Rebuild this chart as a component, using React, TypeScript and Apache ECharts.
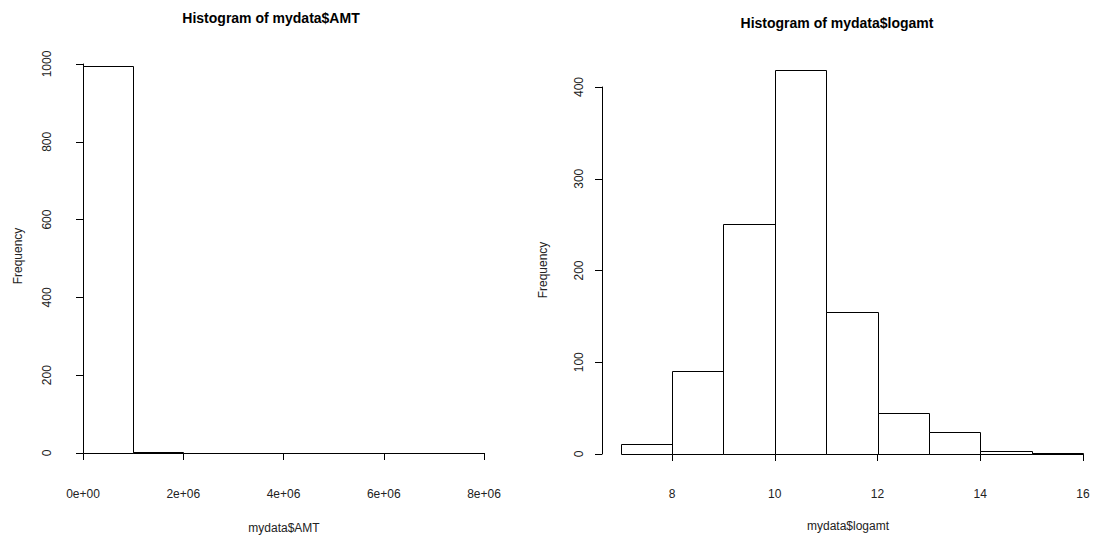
import React, { useEffect, useRef } from "react";
import * as echarts from "echarts";

// Left histogram: bins of mydata$AMT (width 1e6)
const amtBinStarts = [0, 1e6, 2e6, 3e6, 4e6, 5e6, 6e6, 7e6];
const amtBinWidth = 1e6;
const amtCounts = [995, 2, 0, 0, 0, 0, 0, 1];
const amtTickLabels = ["0e+00", "2e+06", "4e+06", "6e+06", "8e+06"];

// Right histogram: bins of mydata$logamt (width 1)
const logBinStarts = [7, 8, 9, 10, 11, 12, 13, 14, 15];
const logBinWidth = 1;
const logCounts = [11, 91, 251, 419, 155, 45, 24, 3, 1];
const logTickLabels = ["8", "10", "12", "14", "16"];

const leftTitle = "Histogram of mydata$AMT";
const rightTitle = "Histogram of mydata$logamt";
const leftXName = "mydata$AMT";
const rightXName = "mydata$logamt";
const yName = "Frequency";

const FONT = '"Liberation Sans", Arial, sans-serif';
const TXT = "#222";

function renderBar(params: any, api: any) {
  const x0 = api.value(0);
  const x1 = api.value(1);
  const h = api.value(2);
  const pA = api.coord([x0, 0]);
  const pB = api.coord([x1, h]);
  const l = Math.round(pA[0]) + 0.5;
  const r = Math.round(pB[0]) + 0.5;
  const b = Math.round(pA[1]) + 0.5;
  const t = Math.round(pB[1]) + 0.5;
  return {
    type: "polygon",
    shape: { points: [[l, b], [l, t], [r, t], [r, b]] },
    style: { fill: "#fff", stroke: "#000", lineWidth: 1 },
  };
}

function axisCommon() {
  return {
    splitLine: { show: false },
    axisLine: { show: true, lineStyle: { color: "#000", width: 1 } },
    axisTick: { show: true, length: 7, inside: false, lineStyle: { color: "#000", width: 1 } },
  };
}

export default function App() {
  const ref = useRef<HTMLDivElement>(null);
  useEffect(() => {
    if (!ref.current) return;
    const chart = echarts.init(ref.current, null, { renderer: "svg" });
    const amtData = amtBinStarts.map((s, i) => [s, s + amtBinWidth, amtCounts[i]]);
    const logData = logBinStarts.map((s, i) => [s, s + logBinWidth, logCounts[i]]);
    chart.setOption({
      animation: false,
      backgroundColor: "#fff",
      grid: [
        { left: 83, top: 64, width: 401, height: 389 },
        { left: 672, top: 87, width: 411, height: 367 },
      ],
      xAxis: [
        {
          type: "value",
          gridIndex: 0,
          min: 0,
          max: 8e6,
          interval: 2e6,
          offset: 17,
          ...axisCommon(),
          axisLabel: {
            margin: 18,
            color: TXT,
            fontSize: 12,
            fontFamily: FONT,
            formatter: (v: number) => amtTickLabels[Math.round(v / 2e6)] ?? "",
          },
        },
        {
          type: "value",
          gridIndex: 1,
          min: 8,
          max: 16,
          interval: 2,
          offset: 16,
          ...axisCommon(),
          axisLabel: {
            margin: 18,
            color: TXT,
            fontSize: 12,
            fontFamily: FONT,
            formatter: (v: number) => logTickLabels[Math.round((v - 8) / 2)] ?? "",
          },
        },
      ],
      yAxis: [
        {
          type: "value",
          gridIndex: 0,
          min: 0,
          max: 1000,
          interval: 200,
          offset: 16,
          ...axisCommon(),
          axisLabel: {
            margin: 14,
            rotate: 90,
            color: TXT,
            fontSize: 12,
            fontFamily: FONT,
            formatter: (v: number) => String(v),
          },
        },
        {
          type: "value",
          gridIndex: 1,
          min: 0,
          max: 400,
          interval: 100,
          offset: 70,
          ...axisCommon(),
          axisLabel: {
            margin: 17,
            rotate: 90,
            color: TXT,
            fontSize: 12,
            fontFamily: FONT,
            formatter: (v: number) => String(v),
          },
        },
      ],
      series: [
        {
          type: "custom",
          xAxisIndex: 0,
          yAxisIndex: 0,
          clip: false,
          renderItem: renderBar,
          encode: { x: [0, 1], y: 2 },
          data: amtData,
        },
        {
          type: "custom",
          xAxisIndex: 1,
          yAxisIndex: 1,
          clip: false,
          renderItem: renderBar,
          encode: { x: [0, 1], y: 2 },
          data: logData,
        },
      ],
      graphic: [
        {
          type: "text",
          x: 271,
          y: 18,
          style: { text: leftTitle, font: `bold 14px ${FONT}`, fill: "#000", align: "center", verticalAlign: "middle" },
        },
        {
          type: "text",
          x: 837,
          y: 23,
          style: { text: rightTitle, font: `bold 14px ${FONT}`, fill: "#000", align: "center", verticalAlign: "middle" },
        },
        {
          type: "text",
          x: 284,
          y: 528,
          style: { text: leftXName, font: `12px ${FONT}`, fill: TXT, align: "center", verticalAlign: "middle" },
        },
        {
          type: "text",
          x: 848,
          y: 526,
          style: { text: rightXName, font: `12px ${FONT}`, fill: TXT, align: "center", verticalAlign: "middle" },
        },
        {
          type: "text",
          x: 18,
          y: 256,
          rotation: Math.PI / 2,
          style: { text: yName, font: `12px ${FONT}`, fill: TXT, align: "center", verticalAlign: "middle" },
        },
        {
          type: "text",
          x: 543,
          y: 270,
          rotation: Math.PI / 2,
          style: { text: yName, font: `12px ${FONT}`, fill: TXT, align: "center", verticalAlign: "middle" },
        },
      ],
    });
    return () => chart.dispose();
  }, []);
  return (
    <div
      ref={ref}
      style={{ position: "fixed", left: 0, top: 0, width: 1093, height: 536, background: "#fff" }}
    />
  );
}
